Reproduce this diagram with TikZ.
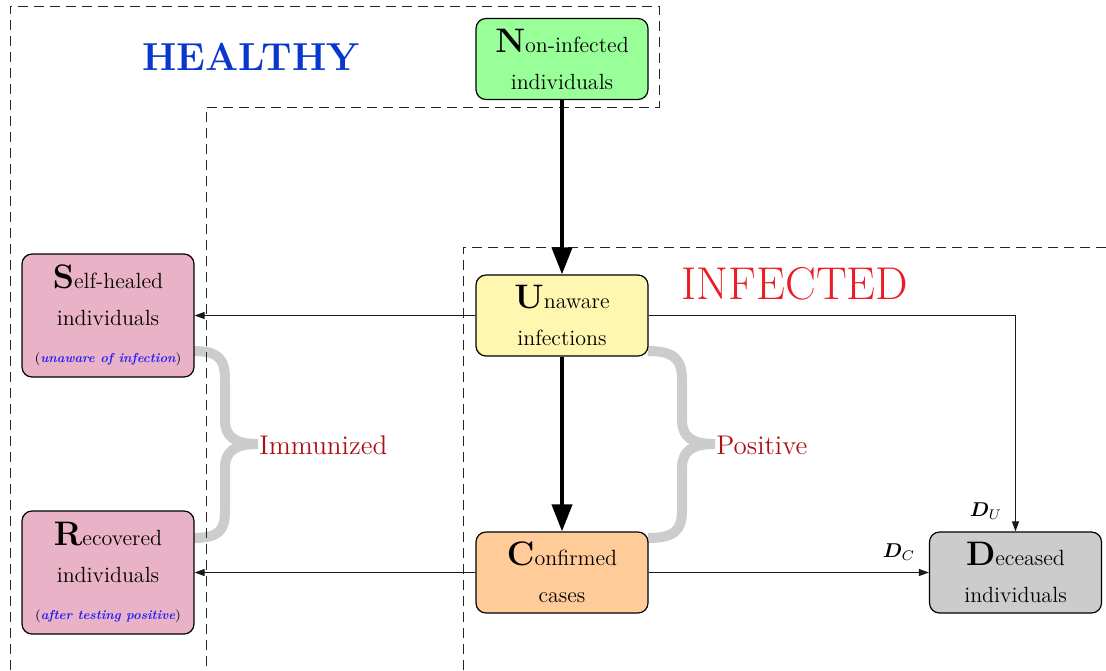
\documentclass[tikz,border=0pt]{standalone}
\usepackage{amsmath,bm}
\usetikzlibrary{arrows.meta}
\pgfdeclarelayer{background}
\pgfsetlayers{background,main}
\definecolor{ncol}{RGB}{153,255,153}
\definecolor{ucol}{RGB}{255,247,175}
\definecolor{ccol}{RGB}{255,204,153}
\definecolor{scol}{RGB}{234,178,198}
\definecolor{dcol}{RGB}{204,204,204}
\definecolor{healthyblue}{RGB}{8,55,205}
\definecolor{infred}{RGB}{235,28,36}
\definecolor{labred}{RGB}{172,16,18}
\definecolor{noteblue}{RGB}{30,30,255}
\newcommand{\initial}[1]{{\fontsize{17}{17}\selectfont\bfseries #1}}
\newcommand{\note}[1]{{\fontsize{6.5}{8}\selectfont(\textcolor{noteblue}{\bfseries\itshape #1})}}
\begin{document}
\begin{tikzpicture}[x=0.5pt,y=-0.5pt,
  box/.style={draw=black, line width=0.6pt, rounded corners=5pt, minimum width=86pt,
    minimum height=40.5pt, align=center, inner sep=0pt, font=\fontsize{11}{18.5}\selectfont},
  tallbox/.style={box, minimum height=61.5pt},
  bigarrow/.style={line width=2pt, -{Triangle[length=13.5pt,width=10pt]}},
  thinarrow/.style={line width=0.5pt, draw=black!90, -{Triangle[length=5pt,width=3.5pt]}},
  region/.style={dash pattern=on 5pt off 3pt, line width=0.5pt, draw=black!85},
  bracestyle/.style={line width=5pt, draw=gray!40},
  grouplabel/.style={text=labred, font=\fontsize{13.5}{13.5}\selectfont, anchor=west, inner sep=0pt},
  dlabel/.style={font=\fontsize{10}{10}\selectfont}
]
\useasboundingbox (0,0) rectangle (1106,670);

% regions
\draw[region] (10,670) -- (10,6) -- (659,6) -- (659,107) -- (206,107) -- (206,670);
\draw[region] (463,670) -- (463,247) -- (1106,247);

\node[text=healthyblue, font=\fontsize{19.5}{20}\selectfont\bfseries] (healthy) at (251,57) {HEALTHY};
\node[text=infred, font=\fontsize{23}{23}\selectfont] (infected) at (795,284) {INFECTED};

% nodes
\node[box, fill=ncol] (N) at (562,59) {\initial{N}on-infected\\individuals};
\node[box, fill=ucol] (U) at (562,315.5) {\initial{U}naware\\infections};
\node[box, fill=ccol] (C) at (562,572.5) {\initial{C}onfirmed\\cases};
\node[tallbox, fill=scol] (S) at (108,315.5) {\initial{S}elf-healed\\individuals\\\note{unaware of infection}};
\node[tallbox, fill=scol] (R) at (108,572.5) {\initial{R}ecovered\\individuals\\\note{after testing positive}};
\node[box, fill=dcol] (D) at (1015.5,572.5) {\initial{D}eceased\\individuals};

% braces
\begin{pgfonlayer}{background}
\draw[bracestyle] (193,351) .. controls (220,351) and (225,360) .. (225,380) -- (225,420)
  .. controls (225,437) and (235,444) .. (258,444)
  .. controls (235,444) and (225,451) .. (225,468) -- (225,510)
  .. controls (225,530) and (220,538) .. (193,538);
\draw[bracestyle] (648,351) .. controls (675,351) and (682,360) .. (682,380) -- (682,420)
  .. controls (682,437) and (692,444) .. (715,444)
  .. controls (692,444) and (682,451) .. (682,468) -- (682,510)
  .. controls (682,530) and (675,538) .. (648,538);
\end{pgfonlayer}
\node[grouplabel] (imm) at (259,445) {Immunized};
\node[grouplabel] (pos) at (716,445) {Positive};

% connectors
\draw[bigarrow] (N) -- (U);
\draw[bigarrow] (U) -- (C);
\draw[thinarrow] (U) -- (S);
\draw[thinarrow] (C) -- (R);
\draw[thinarrow] (C) -- (D);
\draw[thinarrow] (U.east) -| (D.north);

\node[dlabel] (DU) at (986,511) {$\bm{D}_U$};
\node[dlabel] (DC) at (899,552) {$\bm{D}_C$};
\end{tikzpicture}
\end{document}
